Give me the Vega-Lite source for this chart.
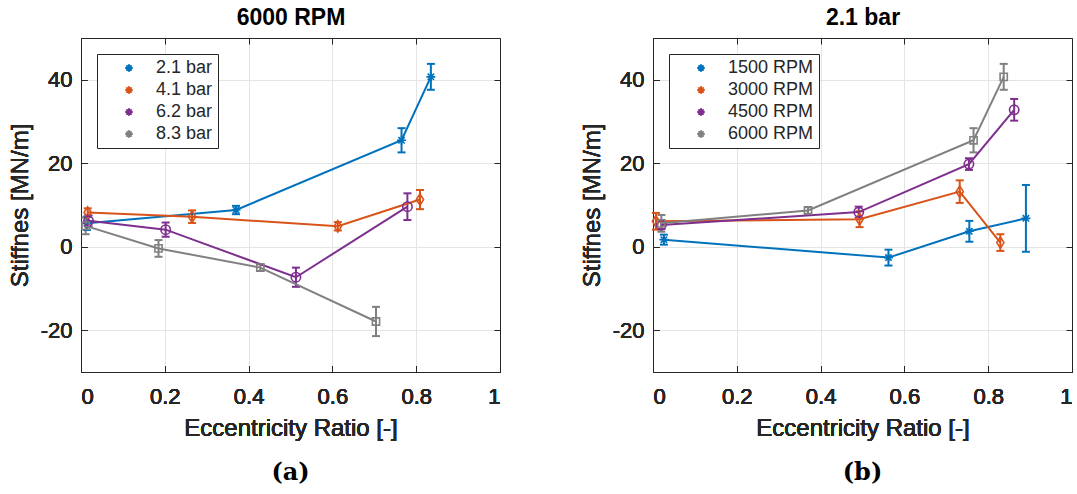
{
  "$schema": "https://vega.github.io/schema/vega-lite/v6.json",
  "background": "white",
  "padding": {"left": 8, "top": 6, "right": 5, "bottom": 5},
  "spacing": 79,
  "config": {
    "font": "Liberation Sans",
    "view": {"stroke": null},
    "axis": {
      "labelFont": "Liberation Sans",
      "titleFont": "Liberation Sans",
      "labelColor": "#262626",
      "titleColor": "#262626",
      "labelFontSize": 22,
      "titleFontSize": 24,
      "titleFontWeight": "normal",
      "domainColor": "#262626",
      "domainWidth": 1,
      "tickColor": "#262626",
      "tickSize": -6,
      "gridColor": "#e4e4e4",
      "gridWidth": 1
    },
    "legend": {
      "orient": "top-left",
      "offset": 16,
      "strokeColor": "#262626",
      "fillColor": "white",
      "padding": 5,
      "labelFont": "Liberation Sans",
      "labelFontSize": 18,
      "labelColor": "#262626",
      "symbolStrokeWidth": 2,
      "rowPadding": 4,
      "symbolOffset": 18,
      "labelOffset": 18
    },
    "title": {"font": "DejaVu Serif", "fontSize": 24, "fontWeight": "bold", "color": "#000000"}
  },
  "resolve": {"scale": {"color": "independent"}},
  "hconcat": [
    {
      "width": 419,
      "height": 334,
      "title": {"text": "(a)", "orient": "bottom", "offset": 21},
      "data": {"values": [
        {"s": "2.1 bar", "x": 0.014, "y": 5.6, "lo": 4.0, "hi": 7.2},
        {"s": "2.1 bar", "x": 0.37, "y": 8.8, "lo": 7.8, "hi": 9.8},
        {"s": "2.1 bar", "x": 0.765, "y": 25.5, "lo": 22.6, "hi": 28.4},
        {"s": "2.1 bar", "x": 0.835, "y": 40.7, "lo": 37.6, "hi": 43.8},
        {"s": "4.1 bar", "x": 0.016, "y": 8.2, "lo": 7.2, "hi": 9.2},
        {"s": "4.1 bar", "x": 0.265, "y": 7.2, "lo": 5.7, "hi": 8.7},
        {"s": "4.1 bar", "x": 0.613, "y": 4.9, "lo": 3.9, "hi": 5.9},
        {"s": "4.1 bar", "x": 0.809, "y": 11.3, "lo": 9.0, "hi": 13.6},
        {"s": "6.2 bar", "x": 0.018, "y": 6.2, "lo": 4.9, "hi": 7.5},
        {"s": "6.2 bar", "x": 0.202, "y": 4.1, "lo": 2.4, "hi": 5.8},
        {"s": "6.2 bar", "x": 0.513, "y": -7.3, "lo": -9.6, "hi": -5.0},
        {"s": "6.2 bar", "x": 0.779, "y": 9.6, "lo": 6.4, "hi": 12.8},
        {"s": "8.3 bar", "x": 0.011, "y": 5.0, "lo": 3.0, "hi": 7.0},
        {"s": "8.3 bar", "x": 0.185, "y": -0.4, "lo": -2.4, "hi": 1.6},
        {"s": "8.3 bar", "x": 0.428, "y": -5.0, "lo": -5.8, "hi": -4.2},
        {"s": "8.3 bar", "x": 0.704, "y": -17.9, "lo": -21.4, "hi": -14.4}
      ]},
      "encoding": {
        "x": {"field": "x", "type": "quantitative", "scale": {"domain": [0, 1]},
              "axis": {"orient": "bottom", "title": "Eccentricity Ratio [-]", "values": [0, 0.2, 0.4, 0.6, 0.8, 1], "format": ".1~f", "labelPadding": 20, "titlePadding": 9}},
        "y": {"field": "y", "type": "quantitative", "scale": {"domain": [-30, 50]},
              "axis": {"orient": "left", "title": "Stiffnes [MN/m]", "values": [-20, 0, 20, 40], "labelExpr": "toString(datum.value)", "labelPadding": 15, "titlePadding": 8}},
        "color": {"field": "s", "type": "nominal",
                  "scale": {"domain": ["2.1 bar", "4.1 bar", "6.2 bar", "8.3 bar"], "range": ["#0072BD", "#D95319", "#7E2F8E", "#808080"]},
                  "legend": {"title": null}}
      },
      "layer": [
        {
          "transform": [{"filter": "datum.s == '2.1 bar'"}],
          "mark": {"type": "point", "shape": "M0,-0.75L0,0.75M-0.75,0L0.75,0M-0.53,-0.53L0.53,0.53M-0.53,0.53L0.53,-0.53", "filled": false, "strokeWidth": 1.6, "opacity": 1, "size": 144},
          "encoding": {
            "color": {"field": "s", "type": "nominal",
                      "legend": {"title": null, "encode": {"symbols": {"fill": {"value": "transparent"}, "shape": {"value": {"expr": "['M-3.83,0L3.83,0M0,-0.75L0,0.75M-0.75,0L0.75,0M-0.53,-0.53L0.53,0.53M-0.53,0.53L0.53,-0.53', 'M-3.83,0L3.83,0M0,-0.95L0.6,0L0,0.95L-0.6,0Z', 'M-3.83,0L3.83,0M0.78,0A0.78,0.78 0 1,1 -0.78,0A0.78,0.78 0 1,1 0.78,0Z', 'M-3.83,0L3.83,0M-0.6,-0.6L0.6,-0.6L0.6,0.6L-0.6,0.6Z'][datum.index]"}}}}}}
          }
        },
        {
          "mark": {"type": "rule", "strokeWidth": 2},
          "encoding": {"y": {"field": "lo", "type": "quantitative", "axis": null}, "y2": {"field": "hi"}}
        },
        {
          "mark": {"type": "point", "shape": "stroke", "filled": false, "size": 64, "strokeWidth": 2, "opacity": 1},
          "encoding": {"y": {"field": "lo", "type": "quantitative", "axis": null}}
        },
        {
          "mark": {"type": "point", "shape": "stroke", "filled": false, "size": 64, "strokeWidth": 2, "opacity": 1},
          "encoding": {"y": {"field": "hi", "type": "quantitative", "axis": null}}
        },
        {"mark": {"type": "line", "strokeWidth": 2}},
        {
          "transform": [{"filter": "datum.s == '4.1 bar'"}],
          "mark": {"type": "point", "shape": "M0,-0.95L0.6,0L0,0.95L-0.6,0Z", "filled": false, "strokeWidth": 1.6, "opacity": 1, "size": 144}
        },
        {
          "transform": [{"filter": "datum.s == '6.2 bar'"}],
          "mark": {"type": "point", "shape": "M0.78,0A0.78,0.78 0 1,1 -0.78,0A0.78,0.78 0 1,1 0.78,0Z", "filled": false, "strokeWidth": 1.6, "opacity": 1, "size": 144}
        },
        {
          "transform": [{"filter": "datum.s == '8.3 bar'"}],
          "mark": {"type": "point", "shape": "M-0.6,-0.6L0.6,-0.6L0.6,0.6L-0.6,0.6Z", "filled": false, "strokeWidth": 1.6, "opacity": 1, "size": 144}
        },
        {
          "mark": {"type": "point", "opacity": 0},
          "encoding": {
            "color": {"value": "white"},
            "x": {"field": "x", "type": "quantitative", "axis": {"orient": "top", "labels": false, "grid": false, "title": "6000 RPM", "titleFontWeight": "bold", "titleFontSize": 23, "titleColor": "#000000", "titlePadding": 8, "values": [0, 0.2, 0.4, 0.6, 0.8, 1]}},
            "y": {"field": "y", "type": "quantitative", "axis": {"orient": "right", "labels": false, "grid": false, "title": null, "values": [-20, 0, 20, 40]}}
          }
        }
      ],
      "resolve": {"axis": {"x": "independent", "y": "independent"}}
    },
    {
      "width": 419,
      "height": 334,
      "title": {"text": "(b)", "orient": "bottom", "offset": 21},
      "data": {"values": [
        {"s": "1500 RPM", "x": 0.026, "y": 1.7, "lo": 0.5, "hi": 2.9},
        {"s": "1500 RPM", "x": 0.562, "y": -2.6, "lo": -4.5, "hi": -0.7},
        {"s": "1500 RPM", "x": 0.755, "y": 3.7, "lo": 1.2, "hi": 6.2},
        {"s": "1500 RPM", "x": 0.89, "y": 6.8, "lo": -1.2, "hi": 14.8},
        {"s": "3000 RPM", "x": 0.007, "y": 6.1, "lo": 4.1, "hi": 8.1},
        {"s": "3000 RPM", "x": 0.493, "y": 6.6, "lo": 4.7, "hi": 8.5},
        {"s": "3000 RPM", "x": 0.732, "y": 13.2, "lo": 10.5, "hi": 15.9},
        {"s": "3000 RPM", "x": 0.829, "y": 1.0, "lo": -1.0, "hi": 3.0},
        {"s": "4500 RPM", "x": 0.02, "y": 5.2, "lo": 4.2, "hi": 6.2},
        {"s": "4500 RPM", "x": 0.491, "y": 8.3, "lo": 7.0, "hi": 9.6},
        {"s": "4500 RPM", "x": 0.754, "y": 19.8, "lo": 18.4, "hi": 21.2},
        {"s": "4500 RPM", "x": 0.862, "y": 32.8, "lo": 30.2, "hi": 35.4},
        {"s": "6000 RPM", "x": 0.02, "y": 5.6, "lo": 3.6, "hi": 7.6},
        {"s": "6000 RPM", "x": 0.37, "y": 8.7, "lo": 7.9, "hi": 9.5},
        {"s": "6000 RPM", "x": 0.765, "y": 25.5, "lo": 22.6, "hi": 28.4},
        {"s": "6000 RPM", "x": 0.837, "y": 40.7, "lo": 37.6, "hi": 43.8}
      ]},
      "encoding": {
        "x": {"field": "x", "type": "quantitative", "scale": {"domain": [0, 1]},
              "axis": {"orient": "bottom", "title": "Eccentricity Ratio [-]", "values": [0, 0.2, 0.4, 0.6, 0.8, 1], "format": ".1~f", "labelPadding": 20, "titlePadding": 9}},
        "y": {"field": "y", "type": "quantitative", "scale": {"domain": [-30, 50]},
              "axis": {"orient": "left", "title": "Stiffnes [MN/m]", "values": [-20, 0, 20, 40], "labelExpr": "toString(datum.value)", "labelPadding": 15, "titlePadding": 8}},
        "color": {"field": "s", "type": "nominal",
                  "scale": {"domain": ["1500 RPM", "3000 RPM", "4500 RPM", "6000 RPM"], "range": ["#0072BD", "#D95319", "#7E2F8E", "#808080"]},
                  "legend": {"title": null}}
      },
      "layer": [
        {
          "transform": [{"filter": "datum.s == '1500 RPM'"}],
          "mark": {"type": "point", "shape": "M0,-0.75L0,0.75M-0.75,0L0.75,0M-0.53,-0.53L0.53,0.53M-0.53,0.53L0.53,-0.53", "filled": false, "strokeWidth": 1.6, "opacity": 1, "size": 144},
          "encoding": {
            "color": {"field": "s", "type": "nominal",
                      "legend": {"title": null, "encode": {"symbols": {"fill": {"value": "transparent"}, "shape": {"value": {"expr": "['M-3.83,0L3.83,0M0,-0.75L0,0.75M-0.75,0L0.75,0M-0.53,-0.53L0.53,0.53M-0.53,0.53L0.53,-0.53', 'M-3.83,0L3.83,0M0,-0.95L0.6,0L0,0.95L-0.6,0Z', 'M-3.83,0L3.83,0M0.78,0A0.78,0.78 0 1,1 -0.78,0A0.78,0.78 0 1,1 0.78,0Z', 'M-3.83,0L3.83,0M-0.6,-0.6L0.6,-0.6L0.6,0.6L-0.6,0.6Z'][datum.index]"}}}}}}
          }
        },
        {
          "mark": {"type": "rule", "strokeWidth": 2},
          "encoding": {"y": {"field": "lo", "type": "quantitative", "axis": null}, "y2": {"field": "hi"}}
        },
        {
          "mark": {"type": "point", "shape": "stroke", "filled": false, "size": 64, "strokeWidth": 2, "opacity": 1},
          "encoding": {"y": {"field": "lo", "type": "quantitative", "axis": null}}
        },
        {
          "mark": {"type": "point", "shape": "stroke", "filled": false, "size": 64, "strokeWidth": 2, "opacity": 1},
          "encoding": {"y": {"field": "hi", "type": "quantitative", "axis": null}}
        },
        {"mark": {"type": "line", "strokeWidth": 2}},
        {
          "transform": [{"filter": "datum.s == '3000 RPM'"}],
          "mark": {"type": "point", "shape": "M0,-0.95L0.6,0L0,0.95L-0.6,0Z", "filled": false, "strokeWidth": 1.6, "opacity": 1, "size": 144}
        },
        {
          "transform": [{"filter": "datum.s == '4500 RPM'"}],
          "mark": {"type": "point", "shape": "M0.78,0A0.78,0.78 0 1,1 -0.78,0A0.78,0.78 0 1,1 0.78,0Z", "filled": false, "strokeWidth": 1.6, "opacity": 1, "size": 144}
        },
        {
          "transform": [{"filter": "datum.s == '6000 RPM'"}],
          "mark": {"type": "point", "shape": "M-0.6,-0.6L0.6,-0.6L0.6,0.6L-0.6,0.6Z", "filled": false, "strokeWidth": 1.6, "opacity": 1, "size": 144}
        },
        {
          "mark": {"type": "point", "opacity": 0},
          "encoding": {
            "color": {"value": "white"},
            "x": {"field": "x", "type": "quantitative", "axis": {"orient": "top", "labels": false, "grid": false, "title": "2.1 bar", "titleFontWeight": "bold", "titleFontSize": 23, "titleColor": "#000000", "titlePadding": 8, "values": [0, 0.2, 0.4, 0.6, 0.8, 1]}},
            "y": {"field": "y", "type": "quantitative", "axis": {"orient": "right", "labels": false, "grid": false, "title": null, "values": [-20, 0, 20, 40]}}
          }
        }
      ],
      "resolve": {"axis": {"x": "independent", "y": "independent"}}
    }
  ]
}
